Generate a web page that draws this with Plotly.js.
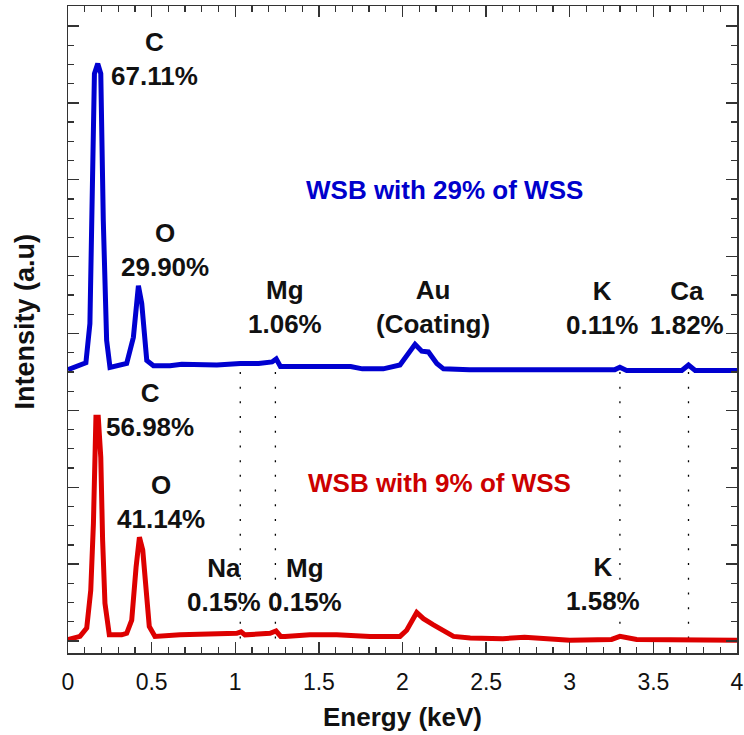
<!DOCTYPE html>
<html>
<head>
<meta charset="utf-8">
<script src="https://cdn.plot.ly/plotly-3.0.1.min.js"></script>
<style>html,body{margin:0;padding:0;background:#fff;}#chart{width:744px;height:735px;}</style>
</head>
<body>
<div id="chart"></div>
<script>
// ---- Data ----
const energyBlue = [0, 0.05, 0.107, 0.131, 0.158, 0.178, 0.196, 0.211, 0.231, 0.251, 0.311, 0.351, 0.391, 0.421, 0.441, 0.471, 0.511, 0.61, 0.68, 0.89, 1.03, 1.14, 1.22, 1.245, 1.27, 1.41, 1.57, 1.69, 1.76, 1.885, 1.985, 2.075, 2.115, 2.155, 2.205, 2.245, 2.40, 2.60, 2.80, 3.00, 3.20, 3.27, 3.30, 3.34, 3.50, 3.67, 3.71, 3.75, 3.90, 4.00];
const intensityBlue = [3.53, 3.57, 3.62, 4.13, 7.38, 7.51, 7.38, 5.47, 3.91, 3.56, 3.60, 3.61, 3.95, 4.62, 4.39, 3.65, 3.58, 3.58, 3.60, 3.59, 3.61, 3.61, 3.63, 3.67, 3.57, 3.57, 3.58, 3.57, 3.54, 3.54, 3.59, 3.86, 3.77, 3.76, 3.61, 3.54, 3.53, 3.53, 3.52, 3.53, 3.52, 3.53, 3.56, 3.52, 3.52, 3.52, 3.59, 3.52, 3.52, 3.52];

const energyRed = [0, 0.072, 0.112, 0.136, 0.152, 0.167, 0.181, 0.196, 0.207, 0.221, 0.247, 0.321, 0.351, 0.381, 0.407, 0.427, 0.447, 0.467, 0.486, 0.520, 0.670, 1.009, 1.035, 1.058, 1.208, 1.244, 1.272, 1.298, 1.447, 1.607, 1.806, 1.985, 2.025, 2.085, 2.125, 2.185, 2.245, 2.305, 2.405, 2.60, 2.73, 2.85, 3.00, 3.25, 3.30, 3.40, 3.70, 4.00];
const intensityRed = [0.02, 0.06, 0.17, 0.66, 1.53, 2.91, 2.91, 2.39, 1.31, 0.49, 0.08, 0.08, 0.10, 0.27, 0.96, 1.35, 1.18, 0.71, 0.19, 0.06, 0.08, 0.10, 0.12, 0.08, 0.10, 0.13, 0.06, 0.06, 0.08, 0.08, 0.06, 0.06, 0.14, 0.37, 0.29, 0.21, 0.14, 0.06, 0.04, 0.03, 0.05, 0.03, 0.01, 0.02, 0.06, 0.02, 0.01, 0.01];

const lineEnergies = [1.03, 1.24, 3.30, 3.71];

const seriesNames = ["WSB with 29% of WSS", "WSB with 9% of WSS"];

const blueLabels = ["C<br>67.11%", "O<br>29.90%", "Mg<br>1.06%", "Au<br>(Coating)", "K<br>0.11%", "Ca<br>1.82%"];
const redLabels = ["C<br>56.98%", "O<br>41.14%", "Na<br>0.15%", "Mg<br>0.15%", "K<br>1.58%"];

// ---- Label anchor positions (energy, intensity) ----
const blueLabelPos = [[0.52, 7.57], [0.58, 5.09], [1.30, 4.35], [2.18, 4.35], [3.19, 4.33], [3.70, 4.33]];
const redLabelPos = [[0.49, 3.01], [0.556, 1.81], [0.93, 0.73], [1.42, 0.73], [3.20, 0.74]];

const BLUE = "#0000d0";
const RED = "#dd0000";
const FONT = "Liberation Sans, Arial, sans-serif";
const LABEL_SIZE = 26;

const traces = [
  {x: energyBlue, y: intensityBlue, type: "scatter", mode: "lines", name: seriesNames[0],
   line: {color: BLUE, width: 5}},
  {x: energyRed, y: intensityRed, type: "scatter", mode: "lines", name: seriesNames[1],
   line: {color: RED, width: 5}}
];

const annotations = [];
blueLabels.forEach((t, i) => annotations.push({x: blueLabelPos[i][0], y: blueLabelPos[i][1], xref: "x", yref: "y",
  text: "<b>" + t + "</b>", showarrow: false, xanchor: "center", yanchor: "middle",
  font: {family: FONT, size: LABEL_SIZE, color: "#111"}}));
redLabels.forEach((t, i) => annotations.push({x: redLabelPos[i][0], y: redLabelPos[i][1], xref: "x", yref: "y",
  text: "<b>" + t + "</b>", showarrow: false, xanchor: "center", yanchor: "middle",
  font: {family: FONT, size: LABEL_SIZE, color: "#111"}}));
annotations.push({x: 2.25, y: 5.87, xref: "x", yref: "y", text: "<b>" + seriesNames[0] + "</b>", showarrow: false,
  xanchor: "center", yanchor: "middle", font: {family: FONT, size: LABEL_SIZE, color: "#0000cc"}});
annotations.push({x: 2.22, y: 2.05, xref: "x", yref: "y", text: "<b>" + seriesNames[1] + "</b>", showarrow: false,
  xanchor: "center", yanchor: "middle", font: {family: FONT, size: LABEL_SIZE, color: "#cc0000"}});
// y-axis title (placed as rotated annotation for exact position)
annotations.push({x: -0.0645, y: 0.512, xref: "paper", yref: "paper", text: "<b>Intensity (a.u)</b>", textangle: -90,
  showarrow: false, xanchor: "center", yanchor: "middle", font: {family: FONT, size: 27, color: "#111"}});

const shapes = lineEnergies.map(e => ({type: "line", xref: "x", yref: "y", x0: e, x1: e, y0: 3.5, y1: -0.13,
  line: {color: "#000", width: 1.3, dash: "2px,12.7px"}, layer: "below"}));

const layout = {
  width: 744, height: 735,
  margin: {l: 68, r: 7, t: 6, b: 82},
  paper_bgcolor: "#fff", plot_bgcolor: "#fff",
  showlegend: false,
  font: {family: FONT, color: "#000"},
  xaxis: {
    range: [0, 4], dtick: 0.5, tick0: 0,
    ticks: "inside", ticklen: 11, tickwidth: 1.3, tickcolor: "#333",
    minor: {dtick: 0.1, ticks: "inside", ticklen: 6, tickwidth: 1.2, tickcolor: "#333"},
    showline: true, linecolor: "#333", linewidth: 1.5, mirror: "ticks",
    showgrid: false, zeroline: false,
    tickfont: {family: FONT, size: 23, color: "#111"},
    ticklabelstandoff: 8,
    title: {text: "<b>Energy (keV)</b>", font: {family: FONT, size: 26, color: "#111"}, standoff: 13}
  },
  yaxis: {
    range: [-0.156, 8.26], dtick: 1, tick0: 0,
    ticks: "inside", ticklen: 11, tickwidth: 1.3, tickcolor: "#333",
    minor: {dtick: 0.25, ticks: "inside", ticklen: 6, tickwidth: 1.2, tickcolor: "#333"},
    showline: true, linecolor: "#333", linewidth: 1.5, mirror: "ticks",
    showgrid: false, zeroline: false, showticklabels: false
  },
  annotations: annotations,
  shapes: shapes
};

Plotly.newPlot("chart", traces, layout, {displayModeBar: false, staticPlot: true});
</script>
</body>
</html>
